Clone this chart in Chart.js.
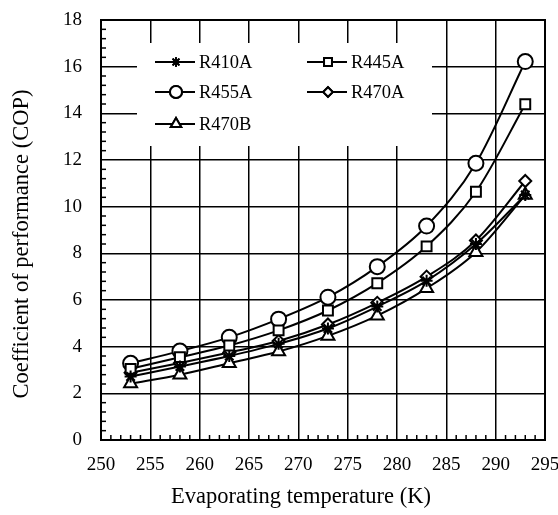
<!DOCTYPE html>
<html><head><meta charset="utf-8">
<script src="https://cdn.jsdelivr.net/npm/chart.js@4"></script>
<style>html,body{margin:0;padding:0;background:#fff}#wrap{width:558px;height:515px;position:relative}</style>
</head><body><div id="wrap"><canvas id="c"></canvas></div>
<script>
const temps=[253,258,263,268,273,278,283,288,293];
const r410a=[2.72,3.15,3.6,4.12,4.78,5.72,6.82,8.4,10.5];
const r445a=[3.05,3.55,4.05,4.7,5.55,6.72,8.3,10.64,14.39];
const r455a=[3.29,3.81,4.4,5.18,6.12,7.43,9.17,11.86,16.22];
const r470a=[2.88,3.3,3.75,4.24,4.95,5.88,7.0,8.55,11.1];
const r470b=[2.42,2.8,3.29,3.79,4.46,5.33,6.5,8.05,10.5];
const seriesNames=['R410A','R445A','R455A','R470A','R470B'];
const xTicks=[250,255,260,265,270,275,280,285,290,295];
const yTicks=[0,2,4,6,8,10,12,14,16,18];
const xTitle='Evaporating temperature (K)';
const yTitle='Coefficient of performance (COP)';

const FONT='"Liberation Serif", "DejaVu Serif", serif';
const styles=[
 {pointStyle:'star',radius:6},
 {pointStyle:'rect',radius:7},
 {pointStyle:'circle',radius:7.5},
 {pointStyle:'rectRot',radius:6},
 {pointStyle:'triangle',radius:7.5}
];
const values=[r410a,r445a,r455a,r470a,r470b];
const datasets=values.map((v,i)=>({
  label:seriesNames[i],
  data:temps.map((t,j)=>({x:t,y:v[j]})),
  borderColor:'#000',borderWidth:2,
  backgroundColor:'#fff',
  pointStyle:styles[i].pointStyle,
  pointRadius:styles[i].radius,
  pointBorderWidth:2,
  pointBackgroundColor:'#fff',
  pointBorderColor:'#000',
  tension:0.4,cubicInterpolationMode:'monotone',
  fill:false
}));

const minorTicks={
  id:'minorTicks',
  afterDraw(chart){
    const ctx=chart.ctx, a=chart.chartArea, xs=chart.scales.x, ys=chart.scales.y;
    ctx.save();ctx.strokeStyle='#000';ctx.lineWidth=1.5;
    for(let v=251;v<295;v++){ if(v%5===0)continue;
      const px=xs.getPixelForValue(v);
      ctx.beginPath();ctx.moveTo(px,a.bottom);ctx.lineTo(px,a.bottom-5);ctx.stroke();}
    for(let k=1;k<45;k++){ if(k%5===0)continue;
      const py=ys.getPixelForValue(k*0.4);
      ctx.beginPath();ctx.moveTo(a.left,py);ctx.lineTo(a.left+5,py);ctx.stroke();}
    ctx.lineWidth=2;ctx.strokeRect(a.left,a.top,a.right-a.left,a.bottom-a.top);
    // axis titles
    ctx.fillStyle='#000';ctx.font='22.5px '+FONT;ctx.textAlign='center';ctx.textBaseline='middle';
    ctx.fillText(xTitle,301,497);
    ctx.translate(22,244);ctx.rotate(-Math.PI/2);ctx.fillText(yTitle,0,0);
    ctx.restore();
  }
};
const legendInside={
  id:'legendInside',
  afterDraw(chart){
    const ctx=chart.ctx, a=chart.chartArea;
    const cols=[a.left+54,a.left+206], rows=[a.top+42,a.top+72,a.top+104];
    ctx.save();
    ctx.fillStyle='#fff';ctx.fillRect(a.left+36,a.top+23,295,103);
    chart.data.datasets.forEach((ds,i)=>{
      const cx=cols[i%2], cy=rows[Math.floor(i/2)];
      ctx.strokeStyle='#000';ctx.lineWidth=2;
      ctx.beginPath();ctx.moveTo(cx,cy);ctx.lineTo(cx+40,cy);ctx.stroke();
      Chart.helpers.drawPoint(ctx,{pointStyle:ds.pointStyle,radius:ds.pointRadius*0.8,borderWidth:2,rotation:0},cx+21,cy);
      ctx.fillStyle='#fff';ctx.fill();ctx.stroke();
      ctx.fillStyle='#000';ctx.font='18.5px '+FONT;ctx.textBaseline='middle';ctx.textAlign='left';
      ctx.fillText(ds.label,cx+44,cy+1);
    });
    ctx.restore();
  }
};

new Chart(document.getElementById('c'),{
  type:'line',
  data:{datasets},
  plugins:[minorTicks,legendInside],
  options:{
    responsive:true,maintainAspectRatio:false,animation:false,
    layout:{padding:{top:20,right:13,left:0,bottom:0}},
    plugins:{legend:{display:false},tooltip:{enabled:false}},
    scales:{
      x:{type:'linear',min:250,max:295,
        afterBuildTicks(s){s.ticks=xTicks.map(v=>({value:v}));},
        afterFit(s){s.height=75;s.paddingLeft=0;s.paddingRight=0;},
        grid:{color:'#000',lineWidth:1.5,drawTicks:false},
        border:{color:'#000',width:2},
        ticks:{color:'#000',padding:14,font:{family:FONT,size:19},maxRotation:0},
        title:{display:false}
      },
      y:{min:0,max:18,
        afterBuildTicks(s){s.ticks=yTicks.map(v=>({value:v}));},
        afterFit(s){s.width=101;s.paddingTop=0;s.paddingBottom=0;},
        grid:{color:'#000',lineWidth:1.5,drawTicks:false},
        border:{color:'#000',width:2},
        ticks:{color:'#000',padding:19,font:{family:FONT,size:19}},
        title:{display:false}
      }
    }
  }
});
</script></body></html>
